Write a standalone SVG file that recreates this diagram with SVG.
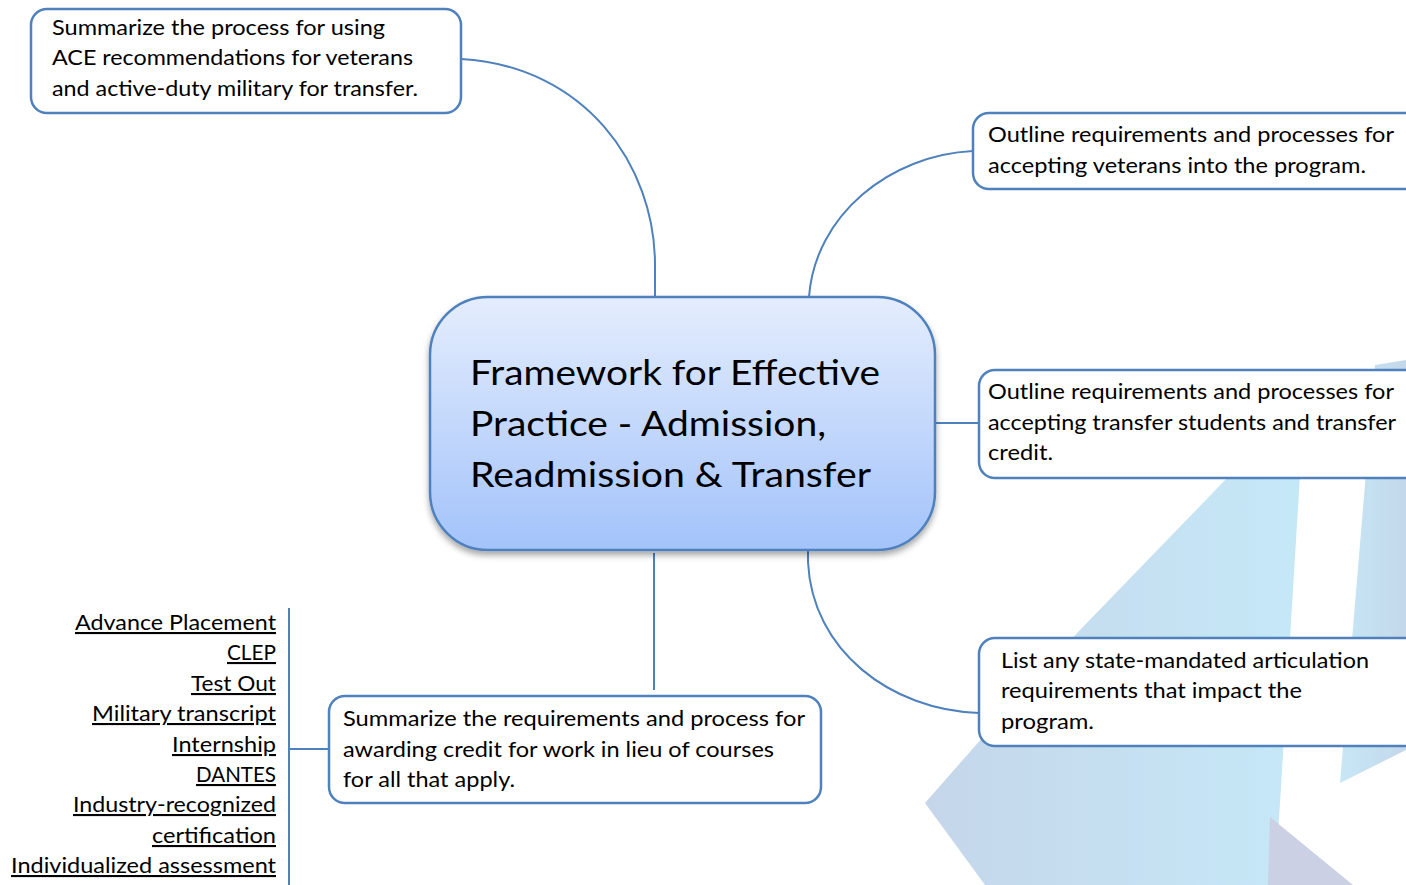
<svg xmlns="http://www.w3.org/2000/svg" width="1406" height="885" viewBox="0 0 1406 885">
<defs>
<style>
.box{fill:#fff;stroke:#4f81bd;stroke-width:2.5}
.t{font-family:Lato,"Liberation Sans",sans-serif;font-size:21px;fill:#000}
.title{font-family:Lato,"Liberation Sans",sans-serif;font-size:34px;fill:#000}
.li{font-family:Lato,"Liberation Sans",sans-serif;font-size:21px;fill:#000;text-anchor:end;text-decoration:underline}
.con{fill:none;stroke:#4f81bd;stroke-width:2}
</style>
<linearGradient id="cg" x1="0" y1="0" x2="0" y2="1">
<stop offset="0" stop-color="#e4edfd"/>
<stop offset="1" stop-color="#a3c3fa"/>
</linearGradient>
<linearGradient id="bg1" x1="0" y1="0" x2="1" y2="0">
<stop offset="0" stop-color="#c5d6ea"/>
<stop offset="1" stop-color="#c5e8f7"/>
</linearGradient>
<linearGradient id="bg2" x1="0" y1="0" x2="1" y2="0">
<stop offset="0" stop-color="#c7e7f6"/>
<stop offset="1" stop-color="#c3d8ea"/>
</linearGradient>
<filter id="sh" x="-10%" y="-10%" width="120%" height="130%">
<feDropShadow dx="0" dy="4" stdDeviation="3" flood-color="#000" flood-opacity="0.35"/>
</filter>
</defs>
<rect width="1406" height="885" fill="#fff"/>
<g id="background">
<polygon points="1230,475 1300,475 1275,885 985,885 925,803 983,737 1080,630" fill="url(#bg1)"/>
<polygon points="1375,365 1406,360 1406,750 1340,783" fill="url(#bg2)"/>
<polygon points="1270,817 1353,885 1268,885" fill="#ccd0e5"/>
</g>
<g id="connectors">
<path class="con" d="M461,59 C585,66 655,165 655,265 L655,297"/>
<path class="con" d="M809,297 C815,215 890,155 973,151"/>
<path class="con" d="M935,423 L979,423"/>
<path class="con" d="M808,550 L808,562 C812,650 890,710 979,713"/>
<path class="con" d="M654,553 L654,690"/>
<path class="con" d="M289,749 L329,749"/>
<path class="con" d="M289,608 L289,885"/>
</g>
<g id="center">
<rect x="430" y="297" width="505" height="253" rx="58" fill="url(#cg)" stroke="#4f81bd" stroke-width="2.5" filter="url(#sh)"/>
<text class="title" x="470" y="385" textLength="410" lengthAdjust="spacingAndGlyphs">Framework for Effective</text>
<text class="title" x="470" y="436" textLength="356" lengthAdjust="spacingAndGlyphs">Practice - Admission,</text>
<text class="title" x="470" y="487" textLength="401" lengthAdjust="spacingAndGlyphs">Readmission &amp; Transfer</text>
</g>
<g id="node-ace">
<rect class="box" x="31" y="9" width="430" height="104" rx="16"/>
<text class="t" x="52" y="35" textLength="333" lengthAdjust="spacingAndGlyphs">Summarize the process for using</text>
<text class="t" x="52" y="65" textLength="361" lengthAdjust="spacingAndGlyphs">ACE recommendations for veterans</text>
<text class="t" x="52" y="96" textLength="366" lengthAdjust="spacingAndGlyphs">and active-duty military for transfer.</text>
</g>
<g id="node-veterans">
<rect class="box" x="973" y="113" width="450" height="76" rx="16"/>
<text class="t" x="988" y="142" textLength="406" lengthAdjust="spacingAndGlyphs">Outline requirements and processes for</text>
<text class="t" x="988" y="173" textLength="378" lengthAdjust="spacingAndGlyphs">accepting veterans into the program.</text>
</g>
<g id="node-transfer">
<rect class="box" x="979" y="370" width="450" height="108" rx="16"/>
<text class="t" x="988" y="399" textLength="406" lengthAdjust="spacingAndGlyphs">Outline requirements and processes for</text>
<text class="t" x="988" y="430" textLength="408" lengthAdjust="spacingAndGlyphs">accepting transfer students and transfer</text>
<text class="t" x="988" y="460" textLength="65" lengthAdjust="spacingAndGlyphs">credit.</text>
</g>
<g id="node-state">
<rect class="box" x="979" y="638" width="450" height="108" rx="16"/>
<text class="t" x="1001" y="668" textLength="368" lengthAdjust="spacingAndGlyphs">List any state-mandated articulation</text>
<text class="t" x="1001" y="698" textLength="301" lengthAdjust="spacingAndGlyphs">requirements that impact the</text>
<text class="t" x="1001" y="729" textLength="93" lengthAdjust="spacingAndGlyphs">program.</text>
</g>
<g id="node-credit">
<rect class="box" x="329" y="696" width="492" height="107" rx="16"/>
<text class="t" x="343" y="726" textLength="462" lengthAdjust="spacingAndGlyphs">Summarize the requirements and process for</text>
<text class="t" x="343" y="757" textLength="431" lengthAdjust="spacingAndGlyphs">awarding credit for work in lieu of courses</text>
<text class="t" x="343" y="787" textLength="172" lengthAdjust="spacingAndGlyphs">for all that apply.</text>
</g>
<g id="list">
<text class="li" x="276" y="630" textLength="201" lengthAdjust="spacingAndGlyphs">Advance Placement</text>
<text class="li" x="276" y="660" textLength="49" lengthAdjust="spacingAndGlyphs">CLEP</text>
<text class="li" x="276" y="691" textLength="85" lengthAdjust="spacingAndGlyphs">Test Out</text>
<text class="li" x="276" y="721" textLength="184" lengthAdjust="spacingAndGlyphs">Military transcript</text>
<text class="li" x="276" y="752" textLength="104" lengthAdjust="spacingAndGlyphs">Internship</text>
<text class="li" x="276" y="782" textLength="80" lengthAdjust="spacingAndGlyphs">DANTES</text>
<text class="li" x="276" y="812" textLength="203" lengthAdjust="spacingAndGlyphs">Industry-recognized</text>
<text class="li" x="276" y="843" textLength="124" lengthAdjust="spacingAndGlyphs">certification</text>
<text class="li" x="276" y="873" textLength="265" lengthAdjust="spacingAndGlyphs">Individualized assessment</text>
</g>
</svg>
